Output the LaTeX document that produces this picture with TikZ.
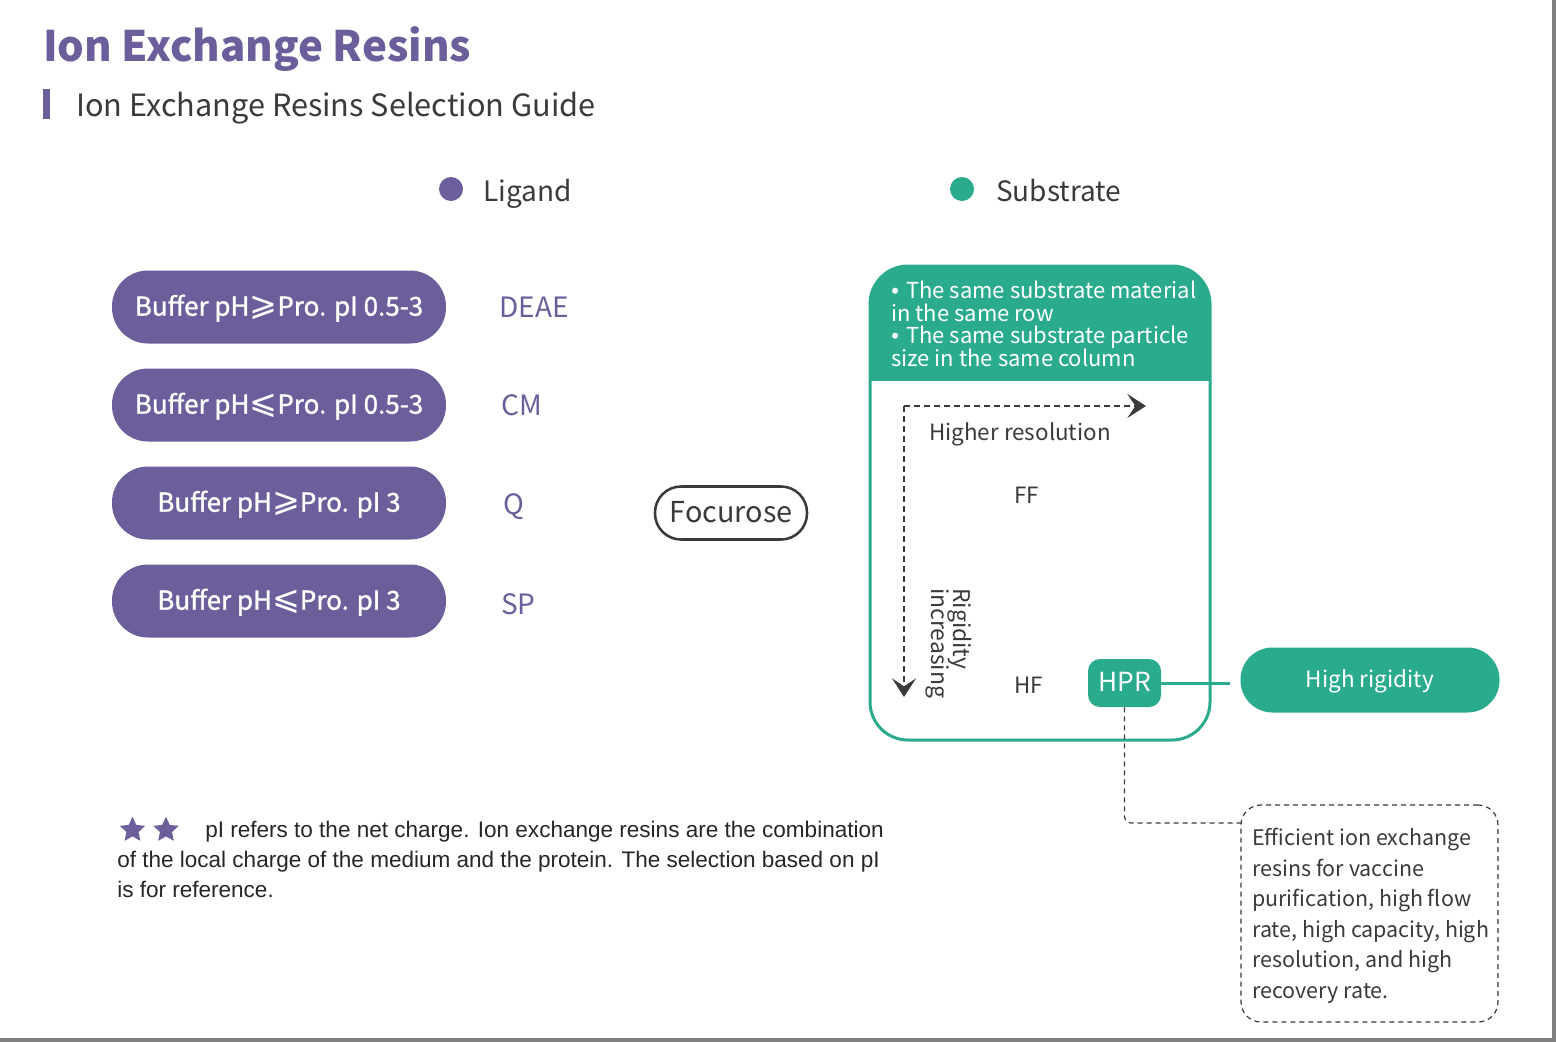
\documentclass[tikz,border=0pt]{standalone}
\usepackage{fontspec}
\setmainfont{Noto Sans CJK SC}
\newfontfamily\pillfont{Noto Sans CJK SC}[FakeBold=1.2]
\newfontfamily\arialf{Liberation Sans}
\newfontfamily\bulf{Liberation Sans}
\newfontfamily\symf{DejaVu Sans}
\usetikzlibrary{arrows.meta,shapes.geometric}
\definecolor{pur}{HTML}{6B5E9B}
\definecolor{grn}{HTML}{2BAB8E}
\definecolor{txt}{HTML}{3A3A3A}
\definecolor{framec}{HTML}{808080}
\newcommand{\fs}[1]{\fontsize{#1}{1.2\dimexpr#1\relax}\selectfont}
\newcommand{\geqs}{{\symf\fontsize{25pt}{25pt}\selectfont ⩾}}
\newcommand{\leqs}{{\symf\fontsize{25pt}{25pt}\selectfont ⩽}}
\tikzset{
  lbl/.style={anchor=base west, inner sep=0pt, text=txt},
  pill/.style={fill=pur, rounded corners=27pt, minimum width=250.5pt, minimum height=54.75pt,
    inner sep=0pt, text=white, font=\pillfont\fs{19.5pt}, text height=13pt, text depth=0pt},
  ligl/.style={anchor=base west, inner sep=0pt, text=pur, font=\fs{21pt}},
  hdr/.style={anchor=base west, inner sep=0pt, text=white, font=\fs{16.5pt}},
  inl/.style={anchor=base west, inner sep=0pt, text=txt, font=\fs{16.8pt}},
  dasharrow/.style={txt, line width=1.1pt, dash pattern=on 4.5pt off 3pt,
    -{Stealth[length=14pt, width=18pt, inset=6pt]}},
  thindash/.style={txt, line width=0.9pt, dash pattern=on 3.75pt off 3pt},
  gpill/.style={fill=grn, text=white, inner sep=0pt},
  notel/.style={anchor=base west, inner sep=0pt, text=black!85, font=\arialf\fs{16.9pt}},
  effl/.style={anchor=base west, inner sep=0pt, text=txt, font=\fs{16.1pt}},
  staricon/.style={star, star points=5, star point ratio=2.1, fill=pur, minimum size=20pt, inner sep=0pt}
}
\begin{document}
\begin{tikzpicture}[x=0.75pt, y=-0.75pt]
\useasboundingbox (0,0) rectangle (1556,1042);
\fill[white] (0,0) rectangle (1556,1042);
\fill[framec] (1552,0) rectangle (1556,1042);
\fill[framec] (0,1038) rectangle (1556,1042);

% titles
\node[anchor=base west, inner sep=0pt, text=pur, font=\bfseries\fs{31.5pt}] (title) at (43,61) {Ion Exchange Resins};
\node[fill=pur, minimum width=5.25pt, minimum height=22.5pt, inner sep=0pt] (bar) at (46.5,104) {};
\node[lbl, font=\fs{23pt}] (subtitle) at (76,116) {Ion Exchange Resins Selection Guide};

% legend
\node[circle, fill=pur, minimum size=18pt, inner sep=0pt] (ligdot) at (451,189) {};
\node[lbl, font=\fs{21pt}] (ligand) at (483,201) {Ligand};
\node[circle, fill=grn, minimum size=18pt, inner sep=0pt] (subdot) at (962,189) {};
\node[lbl, font=\fs{21pt}] (substrate) at (996,201) {Substrate};

% buffer pills
\node[pill] (p1) at (279,307) {Buffer pH\geqs Pro. pI 0.5-3};
\node[pill] (p2) at (279,405) {Buffer pH\leqs Pro. pI 0.5-3};
\node[pill] (p3) at (279,503) {Buffer pH\geqs Pro. pI 3};
\node[pill] (p4) at (279,601) {Buffer pH\leqs Pro. pI 3};

\node[ligl] (deae) at (499,317) {DEAE};
\node[ligl] (cm) at (501,415) {CM};
\node[ligl] (q) at (503,514) {Q};
\node[ligl] (sp) at (501,614) {SP};

% Focurose
\node[draw=txt, line width=1.9pt, rounded corners=19.5pt, minimum width=114pt, minimum height=39.75pt,
  inner sep=0pt, text=txt, font=\fs{21.6pt}, text height=14.2pt, text depth=0pt] (focurose) at (731,513) {Focurose};

% substrate box
\begin{scope}
\clip[rounded corners=28.5pt] (870,266) rectangle (1210,740);
\fill[grn] (870,266) rectangle (1210,381);
\end{scope}
\node[draw=grn, line width=2.25pt, rounded corners=28.5pt, minimum width=255pt, minimum height=355.5pt, inner sep=0pt] (subbox) at (1040,503) {};

\node[hdr] (h1) at (891,298) {{\bulf •}\,\,The same substrate material};
\node[hdr] (h2) at (891,321) {in the same row};
\node[hdr] (h3) at (891,343) {{\bulf •}\,\,The same substrate particle};
\node[hdr] (h4) at (891,366) {size in the same column};

\coordinate (ac) at (904,406);
\coordinate (ah) at (1146,406);
\coordinate (av) at (904,697);
\draw[dasharrow] (ac) -- (ah);
\draw[dasharrow] (ac) -- (av);

\node[inl] (hres) at (929,440) {Higher resolution};
\node[inl] (ff) at (1014,503) {FF};
\node[inl] (hf) at (1014,693) {HF};
\node[inl, rotate=-90, font=\fs{17.2pt}] (rig1) at (953,588) {Rigidity};
\node[inl, rotate=-90, font=\fs{17.2pt}] (rig2) at (931,588) {increasing};

% HPR
\node[gpill, rounded corners=9pt, minimum width=54.75pt, minimum height=36pt, font=\fs{19.7pt},
  text height=13pt, text depth=0pt] (hpr) at (1124.5,683) {HPR};
\coordinate (hl) at (1230,683);
\draw[grn, line width=2.25pt] (hpr.east) -- (hl);
\node[gpill, rounded corners=24pt, minimum width=194.25pt, minimum height=48.75pt, font=\fs{16.9pt},
  text height=11.2pt, text depth=0pt] (hrig) at (1370,680) {High rigidity};

% efficient box
\node[draw=txt, thindash, rounded corners=15pt, minimum width=192.75pt, minimum height=162.75pt, inner sep=0pt] (eff) at (1369.5,913.5) {};
\coordinate (ej) at (1241,823);
\draw[thindash, rounded corners=5pt] (hpr.south) |- (ej);
\node[effl] (e1) at (1252,845) {Efficient ion exchange};
\node[effl] (e2) at (1252,876) {resins for vaccine};
\node[effl] (e3) at (1252,906) {purification, high flow};
\node[effl] (e4) at (1252,937) {rate, high capacity, high};
\node[effl] (e5) at (1252,967) {resolution, and high};
\node[effl] (e6) at (1252,998) {recovery rate.};

% note
\node[staricon] (s1) at (132.5,830) {};
\node[staricon] (s2) at (166,830) {};
\node[notel] (n1) at (205,837) {pI refers to the net charge. Ion exchange resins are the combination};
\node[notel] (n2) at (117,867) {of the local charge of the medium and the protein. The selection based on pI};
\node[notel] (n3) at (117,897) {is for reference.};
\end{tikzpicture}
\end{document}
